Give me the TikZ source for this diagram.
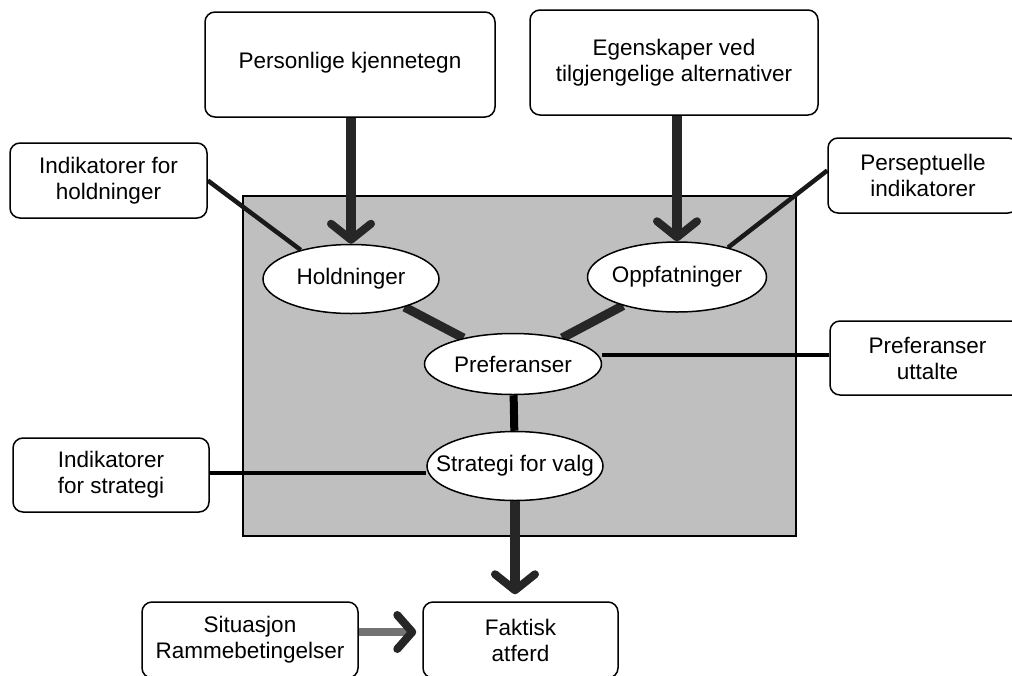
\documentclass[tikz,border=0pt]{standalone}
\usepackage{fontspec}
\setmainfont{Liberation Sans}
\usetikzlibrary{shapes.geometric,arrows.meta,backgrounds}
\begin{document}
\begin{tikzpicture}[x=1pt,y=-1pt,
  box/.style={draw=black, line width=1.5pt, rounded corners=10pt, fill=white, align=center, inner sep=0pt, font=\fontsize{22.5}{26}\selectfont},
  ell/.style={draw=black, line width=1.5pt, ellipse, fill=white, inner sep=0pt, font=\fontsize{22.5}{26}\selectfont},
  thinlink/.style={line width=4.5pt, black!90},
  thicklink/.style={line width=9pt, black!85},
  bigarrow/.style={line width=10pt, black!85, -{Straight Barb[length=16pt,width=40pt,line width=8pt,round]}},
  sidearrow/.style={line width=8pt, black!55, -{Straight Barb[length=15pt,width=34pt,line width=8pt,round,color=black!85]}},
]
\clip (0,0) rectangle (1012,675);

% boxes
\node[box, minimum width=290pt, minimum height=105pt] (pk) at (350,64.5) {\raisebox{8pt}{Personlige kjennetegn}};
\node[box, minimum width=288pt, minimum height=105pt] (eg) at (674,62.5) {Egenskaper ved\\tilgjengelige alternativer};
\node[box, minimum width=197pt, minimum height=75pt] (ih) at (108.5,180.5) {Indikatorer for\\holdninger};
\node[box, minimum width=190pt, minimum height=75pt] (pi) at (923,175.5) {Perseptuelle\\indikatorer};
\node[box, minimum width=195pt, minimum height=74pt] (pu) at (927.5,358) {Preferanser\\uttalte};
\node[box, minimum width=196pt, minimum height=74pt] (is) at (111,475) {Indikatorer\\for strategi};
\node[box, minimum width=216pt, minimum height=76pt] (sr) at (250,640) {Situasjon\\Rammebetingelser};
\node[box, minimum width=195pt, minimum height=76pt] (fa) at (520.5,640) {Faktisk\\atferd};

% ellipses
\node[ell, minimum width=176pt, minimum height=69pt] (ho) at (351,279) {\makebox[0pt]{Holdninger}};
\node[ell, minimum width=179pt, minimum height=70pt] (op) at (677,277) {\makebox[0pt]{Oppfatninger}};
\node[ell, minimum width=177pt, minimum height=61pt] (pr) at (513,364) {\makebox[0pt]{Preferanser}};
\node[ell, minimum width=176pt, minimum height=69pt] (st) at (515,466) {\makebox[0pt]{Strategi for valg}};

\begin{pgfonlayer}{background}
  \fill[black!25] (243,196) rectangle (796,536);
  \draw[line width=1.5pt] (243,196) rectangle (796,536);
  \draw[thicklink] (ho) -- (pr);
  \draw[thicklink] (op) -- (pr);
  \draw[line width=8pt, black] (pr) -- (st);
  \draw[thinlink] (ih.east) -- (ho.150);
  \draw[thinlink] ([yshift=5pt]pi.west) -- (op.30);
  \draw[line width=3.5pt] ([yshift=3pt]pu.west) -- ([yshift=3pt]pu.west -| pr.east);
  \draw[line width=3.5pt] ([yshift=2pt]is.east) -- ([yshift=2pt]is.east -| st.west);
\end{pgfonlayer}

% arrows
\draw[bigarrow] (pk.south -| ho.north) -- (ho.north);
\draw[bigarrow] (eg.south -| op.north) -- (op.north);
\coordinate (fatop) at (st.south |- fa.north);
\draw[bigarrow] (st.south) -- ([yshift=7pt]fatop);
\draw[sidearrow] ([yshift=8pt]sr.east) -- ([xshift=-6pt,yshift=8pt]fa.west);
\end{tikzpicture}
\end{document}
